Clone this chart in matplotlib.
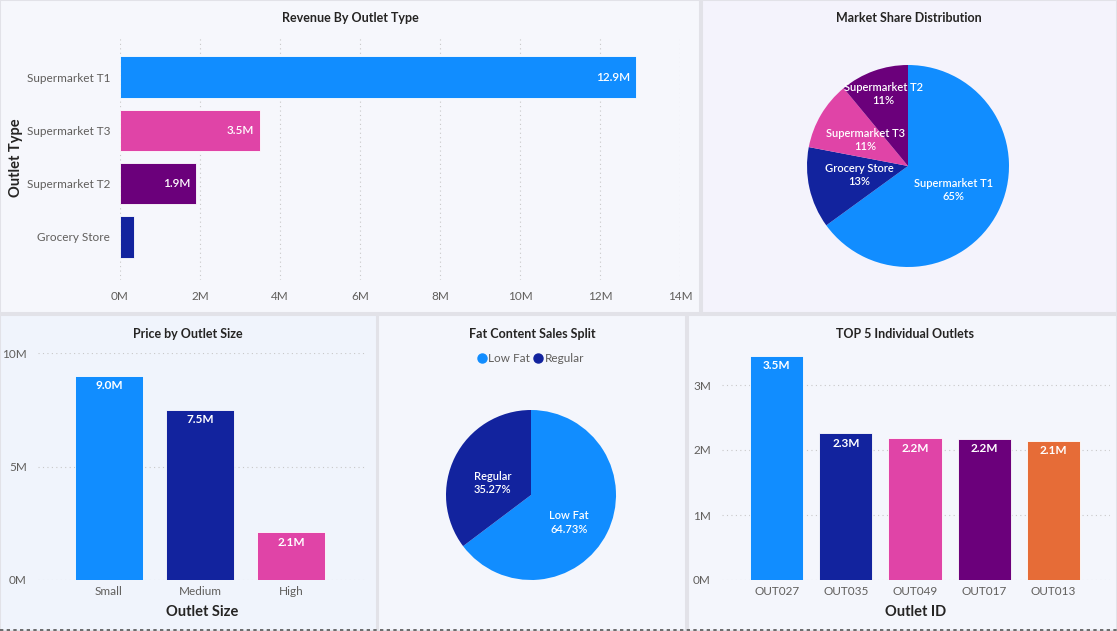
import matplotlib
matplotlib.use("Agg")
import matplotlib.pyplot as plt
from matplotlib.patches import Rectangle
from matplotlib.lines import Line2D
import numpy as np

# ---------------- data ----------------
outlet_types = ["Supermarket T1", "Supermarket T3", "Supermarket T2", "Grocery Store"]
outlet_revenue_m = [12.9, 3.5, 1.9, 0.35]
revenue_labels = ["12.9M", "3.5M", "1.9M", ""]

share_labels = ["Supermarket T1", "Grocery Store", "Supermarket T3", "Supermarket T2"]
share_pct = [65, 13, 11, 11]

sizes = ["Small", "Medium", "High"]
size_price_m = [9.0, 7.5, 2.1]

fat_labels = ["Low Fat", "Regular"]
fat_pct = [64.73, 35.27]

top_outlets = ["OUT027", "OUT035", "OUT049", "OUT017", "OUT013"]
top_sales_m = [3.45, 2.26, 2.18, 2.17, 2.14]

# ---------------- style ----------------
BLUE = "#118DFF"
NAVY = "#12239E"
PINK = "#E044A7"
PURPLE = "#6B007B"
ORANGE = "#E66C37"
TXT = "#252423"
TICK = "#605E5C"
GRID = "#C8C8C8"

plt.rcParams["font.family"] = ["Lato", "DejaVu Sans"]

W, H = 1117, 631
fig = plt.figure(figsize=(W / 100, H / 100), dpi=100)
fig.patch.set_facecolor("#EDEDF2")


def px_axes(l, t, r, b, **kw):
    ax = fig.add_axes([l / W, 1 - b / H, (r - l) / W, (b - t) / H], **kw)
    ax.set_zorder(5)
    return ax


def panel(l, t, r, b, fc="#F6F7FC"):
    fig.patches.append(Rectangle((l / W, 1 - b / H), (r - l) / W, (b - t) / H,
                                 transform=fig.transFigure, facecolor=fc,
                                 edgecolor="#E2E2E8", linewidth=1.5, zorder=-10))


def fig_text(x, y, s, **kw):
    fig.text(x / W, 1 - y / H, s, **kw)


# panels
panel(0, 0, 700, 313, "#F6F7FC")
panel(702, 0, 1117, 313, "#F4F3FC")
panel(0, 315, 377, 631, "#F0F4FC")
panel(378, 315, 686, 631, "#F4F6FC")
panel(688, 315, 1117, 631, "#F4F6FC")
fig.lines.append(Line2D([0, 1], [1 - 629.5 / H, 1 - 629.5 / H], transform=fig.transFigure,
                        color="#555555", linestyle=(0, (2, 2)), linewidth=1.2))


def clean(ax):
    ax.set_facecolor("none")
    for s in ax.spines.values():
        s.set_visible(False)
    ax.tick_params(length=0, colors=TICK, labelsize=8.5)


# ---------------- Revenue By Outlet Type ----------------
ax1 = px_axes(120, 38, 680, 280)
clean(ax1)
y = np.arange(len(outlet_types))
ax1.barh(y, outlet_revenue_m, height=0.77,
         color=[BLUE, PINK, PURPLE, NAVY], edgecolor="white", linewidth=0.6, zorder=2)
ax1.set_xlim(0, 14)
ax1.set_ylim(3 + 43 / 53.3, -(77 - 38) / 53.3)
ax1.set_xticks(range(0, 15, 2))
ax1.set_xticklabels([f"{v}M" for v in range(0, 15, 2)])
ax1.set_yticks(y)
ax1.set_yticklabels(outlet_types)
ax1.tick_params(axis="x", pad=8)
ax1.tick_params(axis="y", pad=7)
ax1.grid(axis="x", color=GRID, linestyle=(0, (1, 3)), linewidth=0.8, zorder=0)
for yi, v, lab in zip(y, outlet_revenue_m, revenue_labels):
    if lab:
        ax1.text(v - 0.15, yi, lab, ha="right", va="center", color="white", fontsize=8.5,
                 fontweight="semibold", zorder=3)
fig_text(350, 18, "Revenue By Outlet Type", ha="center", va="center", fontsize=9,
         color=TXT, fontweight="bold")
fig_text(16, 158, "Outlet Type", ha="center", va="center", rotation=90, fontsize=10.5,
         color=TXT, fontweight="bold")

# ---------------- Market Share Distribution ----------------
r2 = 101
ax2 = px_axes(908 - r2, 166 - r2, 908 + r2, 166 + r2)
ax2.set_facecolor("none")
wedges, _ = ax2.pie(share_pct, colors=[BLUE, NAVY, PINK, PURPLE], startangle=90,
                    counterclock=False, radius=1.0)
ax2.set_xlim(-1, 1)
ax2.set_ylim(-1, 1)
ax2.set_aspect("equal")
pie_txt = [(0.45, -0.24), (-0.48, -0.09), (-0.42, 0.26), (-0.24, 0.71)]
for (tx, ty), lab, p in zip(pie_txt, share_labels, share_pct):
    ax2.text(tx, ty, f"{lab}\n{p}%", ha="center", va="center", color="white",
             fontsize=8, linespacing=1.2, fontweight="semibold")
fig_text(909, 18, "Market Share Distribution", ha="center", va="center", fontsize=9,
         color=TXT, fontweight="bold")

# ---------------- Price by Outlet Size ----------------
ax3 = px_axes(38, 353, 366, 580)
clean(ax3)
x3 = np.arange(len(sizes))
ax3.bar(x3, size_price_m, width=0.75, color=[BLUE, NAVY, PINK],
        edgecolor="white", linewidth=0.6, zorder=2)
ax3.set_ylim(0, 10)
ax3.set_xlim(-(109 - 38) / 91, 2 + (366 - 291) / 91)
ax3.set_yticks([0, 5, 10])
ax3.set_yticklabels(["0M", "5M", "10M"])
ax3.set_xticks(x3)
ax3.set_xticklabels(sizes)
ax3.tick_params(axis="x", pad=4)
ax3.tick_params(axis="y", pad=8)
ax3.grid(axis="y", color=GRID, linestyle=(0, (1, 3)), linewidth=0.8, zorder=0)
for xi, v in zip(x3, size_price_m):
    ax3.text(xi, v - 0.2, f"{v:.1f}M", ha="center", va="top", color="white",
             fontsize=8.5, fontweight="bold", zorder=3)
ax3.set_xlabel("Outlet Size", fontsize=10.5, color=TXT, fontweight="bold", labelpad=6)
fig_text(188, 334, "Price by Outlet Size", ha="center", va="center", fontsize=9,
         color=TXT, fontweight="bold")

# ---------------- Fat Content Sales Split ----------------
r4 = 85
ax4 = px_axes(531 - r4, 495 - r4, 531 + r4, 495 + r4)
ax4.set_facecolor("none")
ax4.pie(fat_pct, colors=[BLUE, NAVY], startangle=90, counterclock=False)
ax4.set_xlim(-1, 1)
ax4.set_ylim(-1, 1)
ax4.set_aspect("equal")
ax4.text(0.45, -0.32, f"{fat_labels[0]}\n{fat_pct[0]:.2f}%", ha="center", va="center",
         color="white", fontsize=8, linespacing=1.3, fontweight="semibold")
ax4.text(-0.45, 0.14, f"{fat_labels[1]}\n{fat_pct[1]:.2f}%", ha="center", va="center",
         color="white", fontsize=8, linespacing=1.3, fontweight="semibold")
fig_text(532, 334, "Fat Content Sales Split", ha="center", va="center", fontsize=9,
         color=TXT, fontweight="bold")
fig.lines.append(Line2D([482 / W], [1 - 358.5 / H], marker="o", markersize=6.5,
                        color=BLUE, transform=fig.transFigure, linestyle="none"))
fig_text(488.5, 359, fat_labels[0], ha="left", va="center", fontsize=8.5, color=TICK)
fig.lines.append(Line2D([538 / W], [1 - 358.5 / H], marker="o", markersize=6.5,
                        color=NAVY, transform=fig.transFigure, linestyle="none"))
fig_text(544.5, 359, fat_labels[1], ha="left", va="center", fontsize=8.5, color=TICK)

# ---------------- TOP 5 Individual Outlets ----------------
ax5 = px_axes(722, 353, 1110, 580)
clean(ax5)
x5 = np.arange(len(top_outlets))
ax5.bar(x5, top_sales_m, width=0.77, color=[BLUE, NAVY, PINK, PURPLE, ORANGE],
        edgecolor="white", linewidth=0.6, zorder=2)
ax5.set_ylim(0, 227 / 65)
ax5.set_xlim(-(776.5 - 722) / 69, 4 + (1110 - 1053.5) / 69)
ax5.set_yticks([0, 1, 2, 3])
ax5.set_yticklabels(["0M", "1M", "2M", "3M"])
ax5.set_xticks(x5)
ax5.set_xticklabels(top_outlets)
ax5.tick_params(axis="x", pad=4)
ax5.tick_params(axis="y", pad=8)
ax5.grid(axis="y", color=GRID, linestyle=(0, (1, 3)), linewidth=0.8, zorder=0)
for xi, v in zip(x5, top_sales_m):
    ax5.text(xi, v - 0.07, f"{v:.1f}M", ha="center", va="top", color="white",
             fontsize=8.5, fontweight="bold", zorder=3)
ax5.set_xlabel("Outlet ID", fontsize=10.5, color=TXT, fontweight="bold", labelpad=6)
fig_text(905, 334, "TOP 5 Individual Outlets", ha="center", va="center", fontsize=9,
         color=TXT, fontweight="bold")

fig.savefig("out.png", dpi=100, facecolor=fig.get_facecolor())
